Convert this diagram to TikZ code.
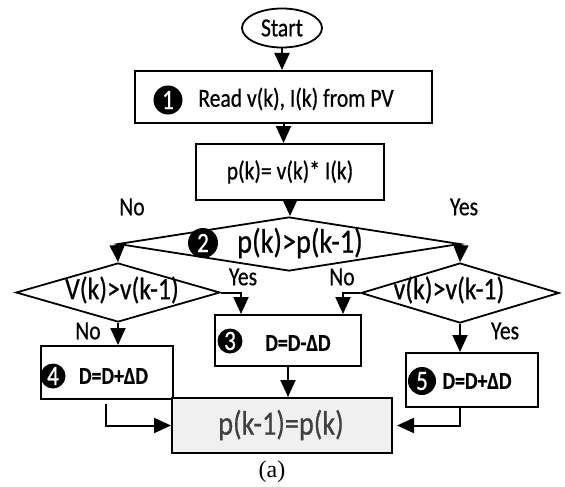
\documentclass[tikz,border=0pt]{standalone}
\usepackage{fontspec}
\setmainfont{Carlito}[FakeStretch=0.83, FakeBold=0.6]
\newfontfamily\capfont{Liberation Serif}
\usetikzlibrary{shapes.geometric,arrows.meta,calc}
\tikzset{
  boxn/.style={draw, line width=2pt, rectangle, inner sep=0pt},
  dia/.style={draw, line width=1.8pt, diamond, inner sep=0pt},
  num/.style={circle, fill=black, text=white, inner sep=0pt, font=\fontsize{28}{28}\selectfont},
  txt/.style={inner sep=0pt, font=\fontsize{26}{28}\selectfont},
  bigtxt/.style={inner sep=0pt, font=\fontsize{34}{36}\selectfont},
  diatxt/.style={inner sep=0pt, font=\fontsize{31}{33}\selectfont},
  dtxt/.style={inner sep=0pt, font=\bfseries\fontsize{24}{26}\selectfont},
  conn/.style={line width=2pt, -{Triangle[length=17pt,width=15pt]}},
}
\begin{document}
\begin{tikzpicture}[x=1pt,y=-1pt]
\useasboundingbox (0,0) rectangle (565,487);
% start
\node[draw, ellipse, line width=1.8pt, minimum width=80pt, minimum height=39pt, txt] (start) at (282,28) {Start};
% read
\node[boxn, minimum width=297pt, minimum height=52pt] (read) at (283.5,97) {};
\node[num, minimum size=29pt] (n1) at (168,100) {1};
\node[txt] (readt) at (296,99) {Read v(k), I(k) from PV};
% product
\node[boxn, minimum width=188pt, minimum height=56pt, txt] (prod) at (290,172) {p(k)= v(k)* I(k)};
% decision
\node[dia, minimum width=342pt, minimum height=54pt] (dec) at (289,244) {};
\node[num, minimum size=30pt] (n2) at (203,243) {2};
\node[bigtxt] (dect) at (300,243) {p(k)>p(k-1)};
% small diamonds
\node[dia, minimum width=204pt, minimum height=59pt] (lv) at (118,292.5) {};
\node[diatxt] (lvt) at (122,290) {V(k)>v(k-1)};
\node[dia, minimum width=198pt, minimum height=60pt] (rv) at (460,293) {};
\node[diatxt] (rvt) at (449,290) {v(k)>v(k-1)};
% box 3
\node[boxn, minimum width=146pt, minimum height=51pt] (b3) at (288,340.5) {};
\node[num, minimum size=25pt] (n3) at (230,341) {3};
\node[dtxt] (b3t) at (298,343) {D=D-ΔD};
% box 4
\node[boxn, minimum width=132pt, minimum height=53pt] (b4) at (107,372.5) {};
\node[num, minimum size=25pt] (n4) at (53,376) {4};
\node[dtxt] (b4t) at (113.5,376) {D=D+ΔD};
% box 5
\node[boxn, minimum width=132pt, minimum height=54pt] (b5) at (472,380) {};
\node[num, minimum size=28pt] (n5) at (422,381) {5};
\node[dtxt] (b5t) at (477,381) {D=D+ΔD};
% final
\node[boxn, fill=gray!12, minimum width=220pt, minimum height=55pt] (fin) at (282,425.5) {};
\node[bigtxt, text=black!75] (fint) at (281,425) {p(k-1)=p(k)};
% labels
\node[txt] (l1) at (132,207) {No};
\node[txt] (l2) at (464,207) {Yes};
\node[txt] (l3) at (243,277) {Yes};
\node[txt] (l4) at (342,277) {No};
\node[txt] (l5) at (88,331) {No};
\node[txt] (l6) at (505,331) {Yes};
\node[inner sep=0pt, font=\capfont\fontsize{24}{24}\selectfont] (cap) at (272,472) {(a)};
% connectors
\draw[conn] (start.south) -- (start.south |- read.north);
\draw[conn] (read.south) -- (read.south |- prod.north);
\draw[conn] (prod.south) -- (prod.south |- dec.north);
\draw[conn] (dec.west) -- (lv.north);
\draw[conn] (dec.east) -- (rv.north);
\draw[conn] (lv.east) -| ([xshift=27pt]b3.north west);
\draw[conn] (rv.west) -| ([xshift=-19pt]b3.north east);
\draw[conn] (lv.south) -- (lv.south |- b4.north);
\draw[conn] (rv.south) -- (rv.south |- b5.north);
\draw[conn] (b3.south) -- (b3.south |- fin.north);
\draw[conn, shorten <=4pt] ([xshift=-1pt]b4.south) |- (fin.west);
\draw[conn, shorten >=4pt] ([xshift=-12pt]b5.south) |- (fin.east);
\end{tikzpicture}
\end{document}
